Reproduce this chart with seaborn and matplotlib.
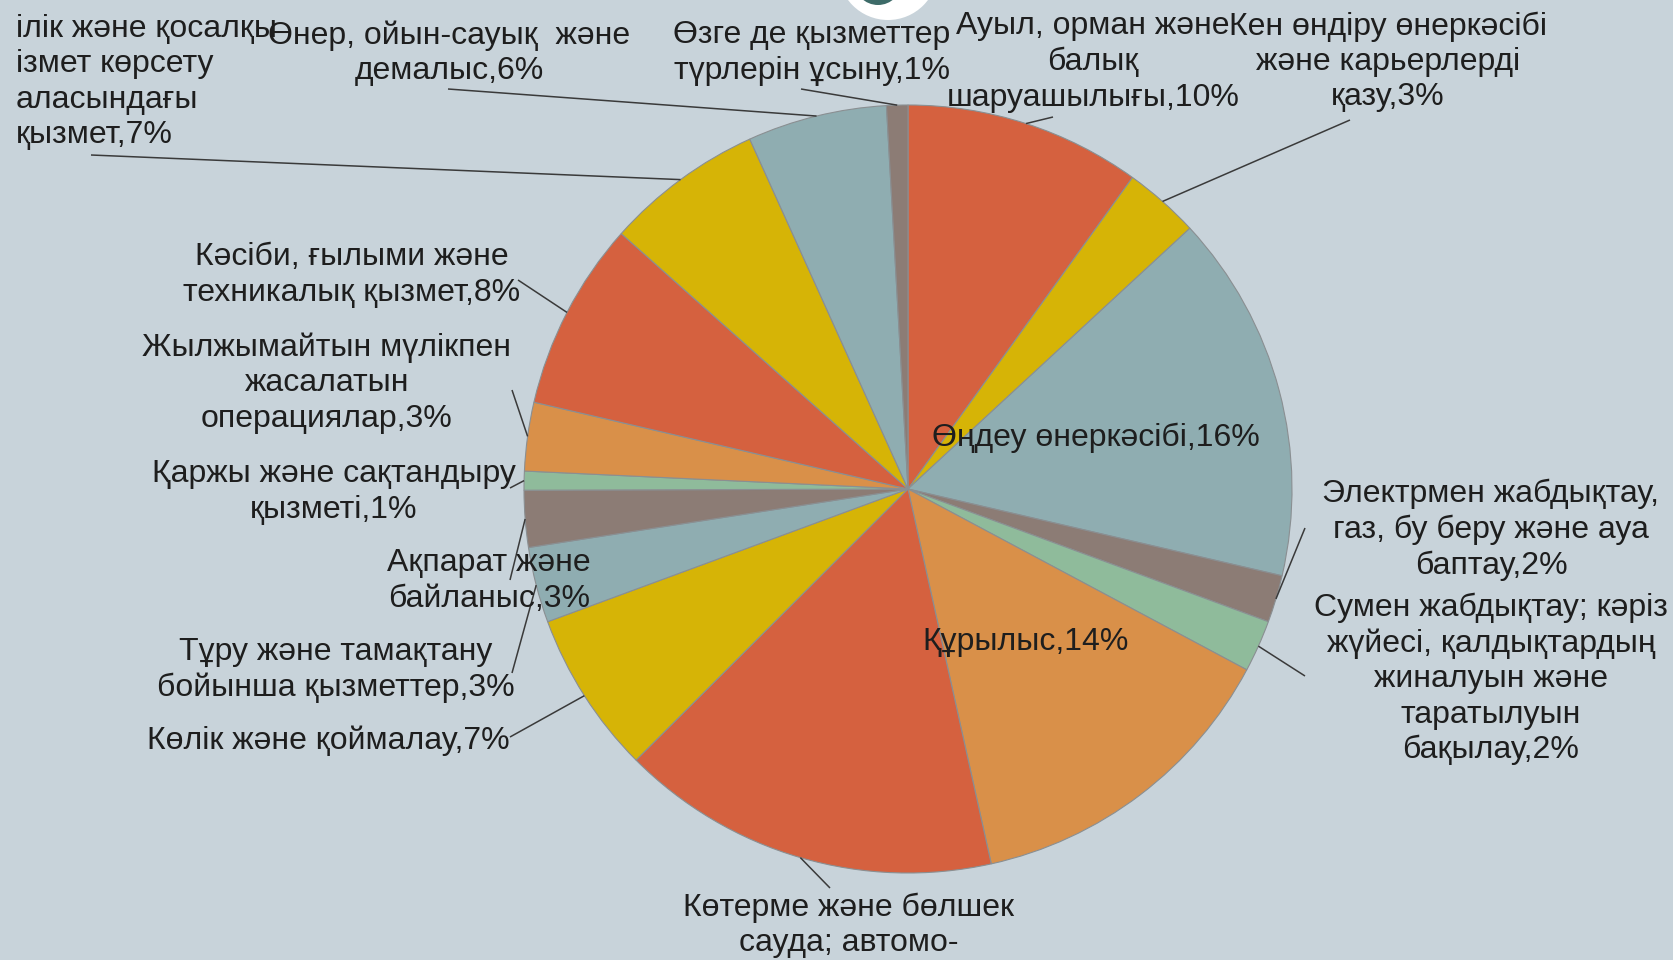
import numpy as np
import matplotlib.pyplot as plt
import seaborn as sns
from matplotlib.patches import Circle

# sectors clockwise from 12 o'clock
sectors = [
    "Ауыл, орман және\nбалық\nшаруашылығы,10%",
    "Кен өндіру өнеркәсібі\nжәне карьерлерді\nқазу,3%",
    "Өңдеу өнеркәсібі,16%",
    "Электрмен жабдықтау,\nгаз, бу беру және ауа\nбаптау,2%",
    "Сумен жабдықтау; кәріз\nжүйесі, қалдықтардың\nжиналуын және\nтаратылуын\nбақылау,2%",
    "Құрылыс,14%",
    "Көтерме және бөлшек\nсауда; автомо-",
    "Көлік және қоймалау,7%",
    "Тұру және тамақтану\nбойынша қызметтер,3%",
    "Ақпарат және\nбайланыс,3%",
    "Қаржы және сақтандыру\nқызметі,1%",
    "Жылжымайтын мүлікпен\nжасалатын\nоперациялар,3%",
    "Кәсіби, ғылыми және\nтехникалық қызмет,8%",
    "ілік және қосалқы\nізмет көрсету\nаласындағы\nқызмет,7%",
    "Өнер, ойын-сауық  және\nдемалыс,6%",
    "Өзге де қызметтер\nтүрлерін ұсыну,1%",
]
shares = [10.0, 3.2, 15.6, 2.0, 2.2, 13.8, 16.1, 6.9, 3.2, 2.4, 0.8, 2.9, 8.0, 6.7, 5.9, 0.9]
palette = ["#d5613f", "#d6b406", "#8fadb1", "#8c7c75", "#8fbb9b", "#d99049"]

# label placement in pixels (x, y from top), leader end, alignment
label_pos = [(1093, 62), (1388, 62), (1096, 438), (1491, 530), (1491, 679), (1026, 642),
             (849, 925), (328, 741), (336, 670), (489, 581), (334, 492), (327, 383),
             (352, 275), (16, 82), (449, 53), (812, 53)]
leader_end = [(1053, 117), (1350, 120), None, (1305, 528), (1305, 676), None,
              (830, 888), (510, 737), (512, 673), (510, 580), (510, 488), (512, 390),
              (518, 280), (91, 155), (448, 89), (801, 89)]
align = ["center"] * 13 + ["left"] + ["center"] * 2

W, H = 1674, 960
bg = "#c8d3da"
cx, cy, R = 908, 489, 384

sns.set_theme(style="white")
plt.rcParams["font.family"] = ["Liberation Sans", "DejaVu Sans"]

fig = plt.figure(figsize=(W / 100, H / 100), dpi=100, facecolor=bg)
ax = fig.add_axes([0, 0, 1, 1])
ax.set_facecolor(bg)

colors = [palette[i % len(palette)] for i in range(len(shares))]
wedges, _ = ax.pie(shares, colors=colors, startangle=90, counterclock=False,
                   center=(cx, H - cy), radius=R, frame=True,
                   wedgeprops=dict(edgecolor="#8a8f92", linewidth=0.8))
ax.set_xlim(0, W)
ax.set_ylim(0, H)
ax.axis("off")

for i, w in enumerate(wedges):
    tx, ty = label_pos[i]
    ax.text(tx, H - ty, sectors[i], ha=align[i], va="center", multialignment=align[i],
            fontsize=23, color="#1e1e1e", linespacing=1.23)
    if leader_end[i] is None:
        continue
    mid = np.deg2rad((w.theta1 + w.theta2) / 2)
    px, py = cx + R * np.cos(mid), H - cy + R * np.sin(mid)
    ex, ey = leader_end[i]
    ax.plot([px, ex], [py, H - ey], color="#3a3a3a", lw=1.1, solid_capstyle="butt")

# white logo fragment at the top edge
ax.add_patch(Circle((888, H + 30), 50, facecolor="white", edgecolor="none"))
ax.add_patch(Circle((878, H + 19), 24, facecolor="#3d6b68", edgecolor="none"))

fig.savefig("out.png", dpi=100, facecolor=bg)
